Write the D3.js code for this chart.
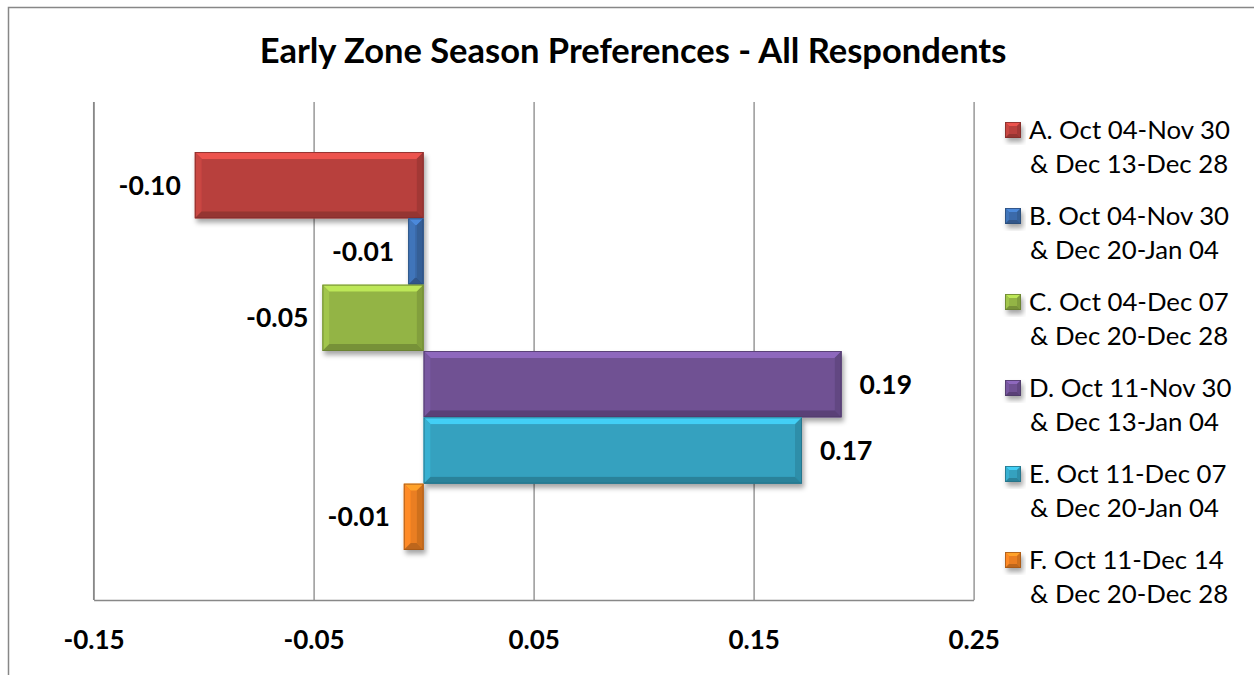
<!DOCTYPE html>
<html><head><meta charset="utf-8">
<script src="https://cdn.jsdelivr.net/npm/d3@7"></script>
<style>html,body{margin:0;padding:0;background:#fff}svg{display:block}</style>
</head><body>
<svg id="chart" width="1254" height="675"></svg>
<script>
const title = "Early Zone Season Preferences - All Respondents";
const seriesKeys = ["A","B","C","D","E","F"];
const legendLine1 = ["A. Oct 04-Nov 30","B. Oct 04-Nov 30","C. Oct 04-Dec 07","D. Oct 11-Nov 30","E. Oct 11-Dec 07","F. Oct 11-Dec 14"];
const legendLine2 = ["& Dec 13-Dec 28","& Dec 20-Jan 04","& Dec 20-Dec 28","& Dec 13-Jan 04","& Dec 20-Jan 04","& Dec 20-Dec 28"];
const values = [-0.104, -0.007, -0.046, 0.190, 0.172, -0.009];
const tickValues = [-0.15, -0.05, 0.05, 0.15, 0.25];
const colors = ["#B8403D","#3B6BAA","#93B445","#6F5193","#34A1BF","#EA7E22"];

const svg = d3.select("#chart");
const FONT = "Lato, 'Open Sans', sans-serif";
const fmt = v => d3.format(".2f")(v).replace("\u2212","-");

// outer chart border
svg.append("rect").attr("x",8.5).attr("y",7.5).attr("width",1300).attr("height",700)
  .attr("fill","#fff").attr("stroke","#878787").attr("stroke-width",1.5);

const defs = svg.append("defs");
const f = defs.append("filter").attr("id","shadow").attr("x","-20%").attr("y","-20%").attr("width","150%").attr("height","160%");
f.append("feDropShadow").attr("dx",2).attr("dy",4).attr("stdDeviation",2.5).attr("flood-color","#000").attr("flood-opacity",0.35);

const plot = {left:93.6, right:973.6, top:102, bottom:600};
const x = d3.scaleLinear().domain([-0.15,0.25]).range([plot.left, plot.right]);
const y = d3.scaleBand().domain(seriesKeys).range([plot.top, plot.bottom]).paddingInner(0).paddingOuter(0.754);

// gridlines
const grid = svg.append("g").attr("transform",`translate(0,${plot.bottom})`)
  .call(d3.axisBottom(x).tickValues(tickValues).tickSize(-(plot.bottom-plot.top)).tickFormat(""));
grid.select(".domain").remove();
grid.selectAll("line").attr("stroke","#888").attr("stroke-width",1.3);

// axes lines
svg.append("line").attr("x1",plot.left).attr("x2",plot.left).attr("y1",plot.top).attr("y2",plot.bottom)
  .attr("stroke","#888").attr("stroke-width",1.3);
const xAxis = svg.append("g").attr("transform",`translate(0,${plot.bottom})`)
  .call(d3.axisBottom(x).tickValues(tickValues).tickSize(0).tickPadding(31).tickFormat(fmt));
xAxis.attr("font-size",null).attr("font-family",null);
xAxis.select(".domain").attr("stroke","#888").attr("stroke-width",1.5);
xAxis.selectAll("text").attr("font-family",FONT).attr("font-weight","bold").attr("font-size",26).attr("fill","#000");

function bevelBar(g, x0, x1, y0, y1, color, b){
  b = Math.min(b, (x1-x0)/2, (y1-y0)/2);
  const c = d3.color(color);
  const grp = g.append("g").attr("filter","url(#shadow)");
  grp.append("rect").attr("x",x0).attr("y",y0).attr("width",x1-x0).attr("height",y1-y0).attr("fill",color);
  const polys = [
    {p:[[x0,y0],[x1,y0],[x1-b,y0+b],[x0+b,y0+b]], fill:c.brighter(0.7)},
    {p:[[x0,y0],[x0+b,y0+b],[x0+b,y1-b],[x0,y1]], fill:c.brighter(0.25)},
    {p:[[x1,y0],[x1-b,y0+b],[x1-b,y1-b],[x1,y1]], fill:c.darker(0.35)},
    {p:[[x0,y1],[x1,y1],[x1-b,y1-b],[x0+b,y1-b]], fill:c.darker(0.6)}
  ];
  polys.forEach(o=>grp.append("polygon").attr("points",o.p.map(q=>q.join(",")).join(" ")).attr("fill",o.fill));
  grp.append("rect").attr("x",x0+b).attr("y",y0+b).attr("width",Math.max(0,x1-x0-2*b)).attr("height",Math.max(0,y1-y0-2*b))
    .attr("fill",color);
  grp.append("rect").attr("x",x0+0.5).attr("y",y0+0.5).attr("width",x1-x0-1).attr("height",y1-y0-1)
    .attr("fill","none").attr("stroke",c.darker(1)).attr("stroke-width",1).attr("stroke-opacity",0.8);
}

const bars = svg.append("g");
values.forEach((v,i)=>{
  const k = seriesKeys[i];
  const x0 = x(Math.min(0,v)), x1 = x(Math.max(0,v));
  bevelBar(bars, x0, x1, y(k), y(k)+y.bandwidth(), colors[i], 7);
});

// data labels
svg.append("g").selectAll("text").data(values).join("text")
  .attr("x",d=> d<0 ? x(d)-14 : x(d)+18)
  .attr("y",(d,i)=> y(seriesKeys[i]) + y.bandwidth()/2)
  .attr("dy","0.36em")
  .attr("text-anchor",d=> d<0 ? "end":"start")
  .attr("font-family",FONT).attr("font-weight","bold").attr("font-size",26.5).attr("fill","#000")
  .text(d=>fmt(d));

// title
const t = svg.append("text").attr("x",633).attr("y",63).attr("text-anchor","middle")
  .attr("font-family",FONT).attr("font-weight","bold").attr("font-size",29).attr("fill","#000").text(title);
(function(){const w=t.node().getComputedTextLength(); t.attr("font-size",29*747/w);})();

// legend
const leg = svg.append("g");
seriesKeys.forEach((k,i)=>{
  const cy = 130 + i*86;
  bevelBar(leg, 1005, 1021, cy-8, cy+8, colors[i], 4);
  leg.append("text").attr("x",1029).attr("y",cy).attr("dy","0.35em")
    .attr("font-family",FONT).attr("font-size",22).attr("fill","#000").text(legendLine1[i]);
  leg.append("text").attr("x",1030).attr("y",cy+34).attr("dy","0.35em")
    .attr("font-family",FONT).attr("font-size",22).attr("fill","#000").text(legendLine2[i]);
});
(function(){
  const n = leg.selectAll("text").filter((d,i,nodes)=>nodes[i].textContent===legendLine1[0]).node();
  const w = n.getComputedTextLength(); const s = 22*201/w;
  leg.selectAll("text").attr("font-size",s);
})();
</script>
</body></html>
